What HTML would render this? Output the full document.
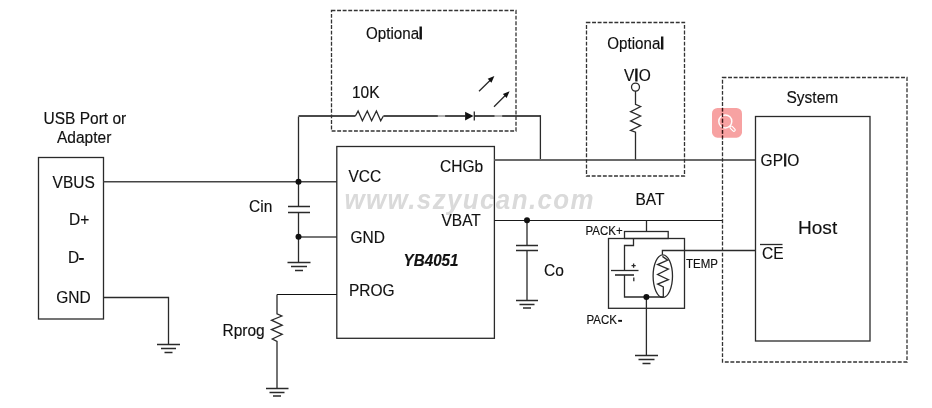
<!DOCTYPE html>
<html><head><meta charset="utf-8">
<style>
html,body{margin:0;padding:0;background:#fff;width:932px;height:408px;overflow:hidden}
svg{display:block;will-change:transform}
text{font-family:"Liberation Sans",sans-serif;fill:#111;stroke:#111;stroke-width:0.15px}
.t text,.t2 text{transform-box:fill-box;transform-origin:0 0}
.t text{transform:scaleX(0.994)}
.t2 text{transform:scaleX(0.965)}
</style></head>
<body>
<svg width="932" height="408" viewBox="0 0 932 408">
<rect width="932" height="408" fill="#fff"/>
<!-- watermark -->
<g transform="translate(344.5,209) scale(0.96,1)"><text x="0" y="0" style="font-size:27px;font-weight:bold;font-style:italic;fill:#dadada;stroke:none" textLength="259.5" lengthAdjust="spacing">www.szyucan.com</text></g>

<g fill="none" stroke="#2a2a2a" stroke-width="1.3">
<!-- USB box -->
<rect x="38.5" y="157.5" width="65" height="161.5"/>
<path d="M103.5 181.8H336.8" stroke="#444" stroke-width="1.6"/>
<path d="M103.5 297.5H168.5V344.5"/>
<!-- ground 1 -->
<path d="M157 344.5H180M161 348.5H176M164.5 352.5H172.5"/>

<!-- Cin column -->
<path d="M298.5 116.5V206.5M298.5 212V262.5"/>
<path d="M288 206.5H310M288 212.5H310"/>
<path d="M287.5 262.5H310.5M291 266.5H307M295 270.5H303"/>
<path d="M298.5 236.9H336.8" stroke="#484848" stroke-width="1.5"/>

<!-- top wire with resistor 10K, diode -->
<path d="M298.5 116H355.4" stroke="#4a4a4a" stroke-width="1.8"/>
<path d="M355.4 116L358.1 111L362.4 120.8L367.3 111L371.6 120.8L376.4 111L380.7 120.8L383.4 116"/>
<path d="M383.4 116H465.5" stroke="#4a4a4a" stroke-width="1.8"/>
<path d="M437.8 116H445.1" stroke="#b4b4b4" stroke-width="1.9"/>
<path d="M474 116H540.4" stroke="#4a4a4a" stroke-width="1.8"/>
<path d="M494.5 116H502.2" stroke="#b4b4b4" stroke-width="1.9"/>
<path d="M540.4 115.2V160"/>
<path d="M474.3 111.5V120.5"/>
<path d="M479 91.3L491 79.5M494 106.7L506 94.8"/>

<!-- IC box -->
<rect x="336.8" y="146.5" width="157.6" height="191.8"/>
<!-- PROG / Rprog -->
<path d="M277 294.5H336.8" stroke="#111" stroke-width="1.1"/>
<path d="M277 294.5V313.9L281.8 316L271.5 320.2L282.2 325.2L271.5 329.6L282.2 334.3L272.3 339L277 341.4V388"/>
<path d="M266 388.5H288.5M269.5 392.5H284.5M273 396H281"/>

<!-- CHGb wire -->
<path d="M494.4 160H755.5" stroke="#6a6a6a" stroke-width="2"/>
<!-- VBAT wire -->
<path d="M494.4 220.5H722.5" stroke="#1a1a1a" stroke-width="1.05"/>
<!-- Co -->
<path d="M527 220.5V245M527 250.5V300.5"/>
<path d="M516 245.5H538M516 250.5H538"/>
<path d="M516 300.5H538M519.5 304.5H534.5M523 308H531"/>

<!-- VIO -->
<circle cx="635.5" cy="87.1" r="4"/>
<path d="M635.5 91.1V104.3L640.6 106.5L630.6 111.6L640.6 116L630.6 120.9L640.6 125.6L630.6 130.4L635.5 132.2V159.5"/>

<!-- BAT terminal & pack -->
<path d="M646.5 220.5V231.5"/>
<rect x="624.5" y="231.5" width="43.7" height="7"/>
<rect x="608.5" y="238.5" width="76" height="69.8"/>
<path d="M633.5 238.5V245.5H624.5V270.5"/>
<path d="M611 270.5H638.5"/>
<path d="M615 275H634" stroke-width="1.6"/>
<path d="M624.5 275V297H663"/>
<path d="M631.5 265.6H635.7M633.6 263.5V267.7"/>
<path d="M633.8 277.5V281.2" stroke-width="1.3"/>
<path d="M646.4 297V355.5"/>
<path d="M635 355.5H658M638.5 359.5H654.5M642.5 363.5H650.5"/>
<!-- thermistor -->
<ellipse cx="662.8" cy="276.1" rx="9.7" ry="21.3"/>
<path d="M662.4 254.8V250.5H755.5"/>
<path d="M662.4 256.4L667.7 260.2L657.6 264.6L668.4 269.1L657.6 274.5L668.4 279.6L657.6 284.1L663.3 287V297"/>

<!-- Host box -->
<rect x="755.5" y="116.5" width="114.5" height="224.5"/>
<path d="M760 244.5H782.5"/>
</g>

<!-- dashed boxes -->
<g fill="none" stroke="#333" stroke-width="1.3" stroke-dasharray="3.9,1.68">
<rect x="331.5" y="10.5" width="184.5" height="120.5"/>
<rect x="586.5" y="22.5" width="98" height="153.5"/>
<rect x="722.5" y="77.5" width="184.5" height="284.5"/>
</g>

<!-- filled shapes -->
<g fill="#111" stroke="none">
<circle cx="298.5" cy="181.8" r="3"/>
<rect x="79.1" y="258" width="4.7" height="1.9"/>
<rect x="618.2" y="319.9" width="3.8" height="1.9"/>
<circle cx="298.5" cy="236.8" r="3"/>
<circle cx="527" cy="220.3" r="3"/>
<circle cx="646.4" cy="297" r="3"/>
<path d="M465.1 111.8L473.5 116L465.1 120.5Z"/>
<path d="M494.4 76.1L487.7 78.8L491.4 82.8Z"/>
<path d="M509.6 91.3L502.9 94L506.6 98Z"/>
</g>

<!-- texts -->
<g class="t" style="font-size:15.6px" transform="translate(0,0.6)">
<text x="43.5" y="123.7">USB Port or</text>
<text x="57" y="142.5">Adapter</text>
<text x="52.6" y="187.7">VBUS</text>
<text x="69" y="224.9">D+</text>
<text x="68" y="262.7">D</text>
<text x="56.2" y="302.5">GND</text>
<text x="366" y="38.3" style="transform:scaleX(0.972)">Optiona<tspan style="stroke-width:1.1px">l</tspan></text>
<text x="352" y="97.8">10K</text>
<text x="348.5" y="181">VCC</text>
<text x="350.5" y="242.3">GND</text>
<text x="349" y="295.8">PROG</text>
<text x="440" y="171.4">CHGb</text>
<text x="441.5" y="225">VBAT</text>
<text x="403.6" y="265.5" style="font-weight:bold;font-style:italic;font-size:16px;transform:scaleX(0.95)">YB4051</text>
<text x="249" y="211">Cin</text>
<text x="222.5" y="335.9">Rprog</text>
<text x="544" y="275">Co</text>
<text x="635.5" y="204.1">BAT</text>
<text x="607.3" y="48.5" style="transform:scaleX(0.972)">Optiona<tspan style="stroke-width:1.1px">l</tspan></text>
<text x="624" y="80.7">V<tspan style="stroke-width:0.8px">I</tspan>O</text>
<text x="786.5" y="102.6">System</text>
<text x="760.6" y="165.9">GP<tspan style="stroke-width:0.8px">I</tspan>O</text>
<text x="762" y="258.7">CE</text>
<text x="798" y="233.7" style="font-size:19.2px">Host</text>
</g>
<g class="t2" style="font-size:11.9px">
<text x="585.5" y="235.1">PACK+</text>
<text x="586.5" y="323.8">PACK</text>
<text x="686" y="267.9">TEMP</text>
</g>

<!-- magnifier overlay -->
<g>
<rect x="712" y="108" width="30" height="29.7" rx="5.5" fill="rgb(240,70,70)" fill-opacity="0.5"/>
<circle cx="725.3" cy="121.4" r="6.5" fill="none" stroke="#fff" stroke-opacity="0.95" stroke-width="1.5"/>
<path d="M731.3 127.4L733.9 130" stroke="#fff" stroke-width="3.8" stroke-linecap="round"/>
<path d="M731.3 127.4L733.9 130" stroke="rgb(247,163,163)" stroke-width="1.5" stroke-linecap="round"/>
<clipPath id="ic"><rect x="712" y="108" width="30" height="29.7"/></clipPath>
<path clip-path="url(#ic)" d="M722.5 362V77.5" fill="none" stroke="#3a1414" stroke-width="1.3" stroke-dasharray="3.9,1.68" stroke-dashoffset="653.5"/>
</g>
</svg>
</body></html>
